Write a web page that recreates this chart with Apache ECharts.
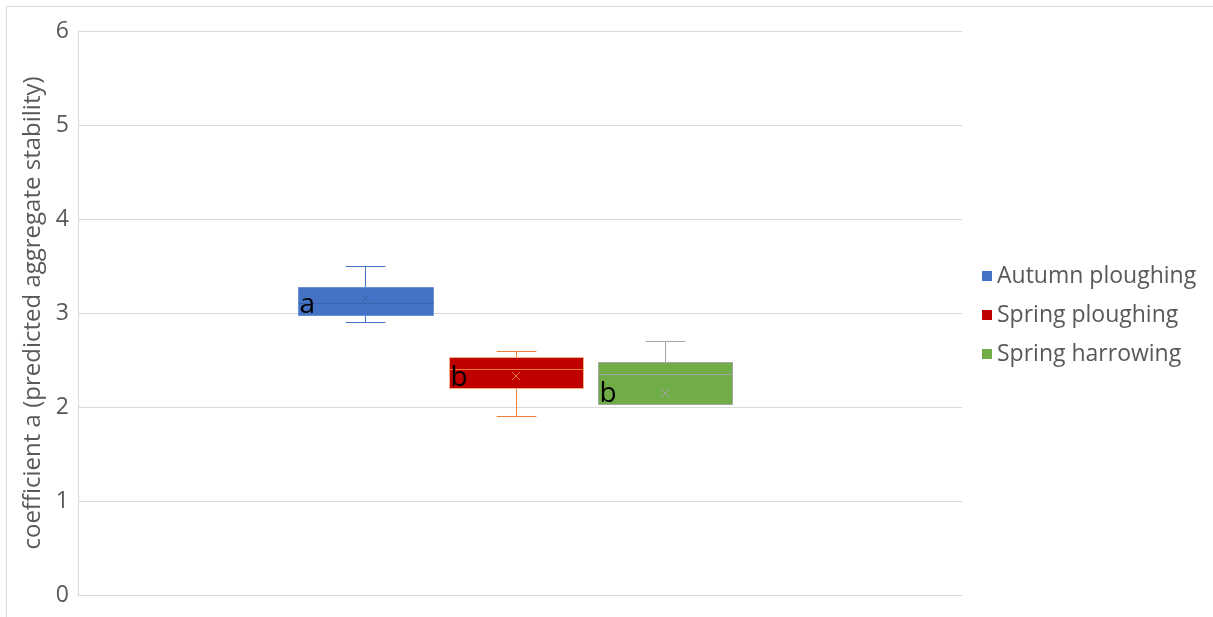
<!DOCTYPE html>
<html>
<head>
<meta charset="utf-8">
<script src="https://cdn.jsdelivr.net/npm/echarts@6/dist/echarts.min.js"></script>
<style>
  html, body { margin: 0; padding: 0; background: #fff; }
  #chart { width: 1213px; height: 617px; }
</style>
</head>
<body>
<div id="chart"></div>
<script>
// Treatments and their five-number summaries plus mean
const groups  = ['Autumn ploughing', 'Spring ploughing', 'Spring harrowing'];
const minimum = [2.90, 1.90, 2.03];
const q1      = [2.98, 2.20, 2.03];
const median  = [3.11, 2.40, 2.35];
const q3      = [3.28, 2.53, 2.48];
const maximum = [3.50, 2.60, 2.70];
const mean    = [3.15, 2.33, 2.15];
const letters = ['a', 'b', 'b'];

// Appearance of each box: fill, outline, whisker/median/mean colour
const styles = [
  { fill: '#4472C4', border: '#6a91d6', line: '#4472C4', inner: '#3b64ad' },
  { fill: '#C00000', border: '#F4B183', line: '#ED7D31', inner: '#ED7D31' },
  { fill: '#70AD47', border: '#A5A5A5', line: '#A5A5A5', inner: '#A5A5A5' }
];
// Box placement within the single category band (fractions of band width)
const boxOffset = [-0.1748, -0.0045, 0.1640];
const boxWidth = 0.1525;
const capWidth = 0.045;
const FONT = 'Open Sans';

function crisp(v) { return Math.round(v) + 0.5; }

function renderBox(params, api) {
  const i = params.seriesIndex;
  const st = styles[i];
  const band = api.size([1, 0])[0];
  const cx = api.coord([0, 0])[0] + boxOffset[i] * band;
  const half = boxWidth * band / 2;
  const cap = capWidth * band / 2;
  const y = idx => api.coord([0, api.value(idx)])[1];
  const yMin = crisp(y(1)), yQ1 = crisp(y(2)), yMed = crisp(y(3));
  const yQ3 = crisp(y(4)), yMax = crisp(y(5)), yMean = y(6);
  const x0 = Math.round(cx - half) + 0.5, x1 = Math.round(cx + half) + 0.5;
  const xc = crisp(cx);
  const lineStyle = { stroke: st.line, lineWidth: 1 };
  const children = [];
  // upper whisker and cap
  if (yMax < yQ3) {
    children.push({ type: 'line', shape: { x1: xc, y1: yQ3, x2: xc, y2: yMax }, style: lineStyle });
    children.push({ type: 'line', shape: { x1: xc - cap, y1: yMax, x2: xc + cap, y2: yMax }, style: lineStyle });
  }
  // lower whisker and cap
  if (yMin > yQ1) {
    children.push({ type: 'line', shape: { x1: xc, y1: yQ1, x2: xc, y2: yMin }, style: lineStyle });
    children.push({ type: 'line', shape: { x1: xc - cap, y1: yMin, x2: xc + cap, y2: yMin }, style: lineStyle });
  }
  // interquartile box
  children.push({
    type: 'rect',
    shape: { x: x0, y: yQ3, width: x1 - x0, height: yQ1 - yQ3 },
    style: { fill: st.fill, stroke: st.border, lineWidth: 1 }
  });
  // median line
  children.push({ type: 'line', shape: { x1: x0, y1: yMed, x2: x1, y2: yMed }, style: { stroke: st.inner, lineWidth: 1 } });
  // mean marker (x)
  const m = 4;
  children.push({ type: 'line', shape: { x1: cx - m, y1: yMean - m, x2: cx + m, y2: yMean + m }, style: { stroke: st.inner, lineWidth: 1 } });
  children.push({ type: 'line', shape: { x1: cx - m, y1: yMean + m, x2: cx + m, y2: yMean - m }, style: { stroke: st.inner, lineWidth: 1 } });
  // significance letter
  children.push({
    type: 'text',
    x: x0 + 1, y: yQ1 + 4,
    style: {
      text: letters[i], fill: '#000', font: '28px "' + FONT + '"',
      textAlign: 'left', textVerticalAlign: 'bottom'
    }
  });
  return { type: 'group', children: children };
}

const series = groups.map((name, i) => ({
  name: name,
  type: 'custom',
  renderItem: renderBox,
  itemStyle: { color: styles[i].fill },
  encode: { x: 0, y: [1, 2, 3, 4, 5, 6] },
  data: [[0, minimum[i], q1[i], median[i], q3[i], maximum[i], mean[i]]],
  clip: false
}));

const chart = echarts.init(document.getElementById('chart'), null, { renderer: 'canvas' });
chart.setOption({
  animation: false,
  backgroundColor: '#fff',
  textStyle: { fontFamily: FONT },
  graphic: [{
    type: 'rect',
    shape: { x: 6.5, y: 6.5, width: 1220, height: 630 },
    style: { fill: 'none', stroke: '#d9d9d9', lineWidth: 1 },
    silent: true
  }],
  grid: { left: 78, right: 251, top: 31, bottom: 22 },
  legend: {
    orient: 'vertical',
    left: 977,
    top: 259,
    icon: 'rect',
    itemWidth: 10,
    itemHeight: 10,
    itemGap: 15,
    textStyle: { color: '#595959', fontSize: 23, fontFamily: FONT, lineHeight: 24 },
    data: groups
  },
  xAxis: {
    type: 'category',
    data: [''],
    axisLine: { lineStyle: { color: '#d9d9d9' } },
    axisTick: { show: false },
    axisLabel: { show: false },
    splitLine: { show: false }
  },
  yAxis: {
    type: 'value',
    min: 0, max: 6, interval: 1,
    name: 'coefficient a (predicted aggregate stability)',
    nameLocation: 'middle',
    nameGap: 33,
    nameTextStyle: { color: '#595959', fontSize: 24, fontFamily: FONT },
    axisLine: { show: true, lineStyle: { color: '#d9d9d9' } },
    axisTick: { show: false },
    axisLabel: { color: '#595959', fontSize: 23, margin: 9, fontFamily: FONT },
    splitLine: { lineStyle: { color: '#d9d9d9' } }
  },
  series: series
});
</script>
</body>
</html>
